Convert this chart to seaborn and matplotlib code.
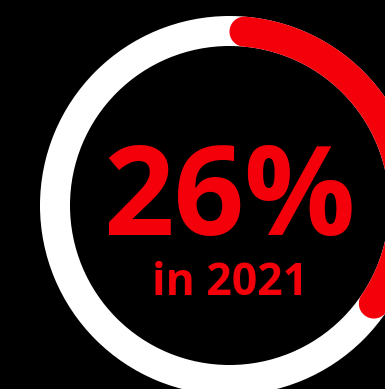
import numpy as np
import matplotlib
matplotlib.use("Agg")
import matplotlib.pyplot as plt
from matplotlib.patches import Wedge
import seaborn as sns

# Headline figure shown inside the ring
share_value = 26          # percent
ring_max = 72.5           # value that a full turn of the ring stands for
headline = f"{share_value}%"
subtitle = "in 2021"

RED = "#f4000b"
WHITE = "#ffffff"
BG = "#000000"

sns.set_theme(style="white")
plt.rcParams["font.family"] = ["Open Sans", "DejaVu Sans"]

W, H = 385, 389
fig = plt.figure(figsize=(W / 100, H / 100), dpi=100, facecolor=BG)
ax = fig.add_axes([0, 0, 1, 1])
ax.set_facecolor(BG)
ax.set_xlim(0, W)
ax.set_ylim(H, 0)
ax.set_aspect("equal")
ax.axis("off")

# ring geometry (pixel units, y grows downwards)
cx, cy = 229.5, 205.5
r_out, ring_w = 189.5, 30.0
r_in = r_out - ring_w
r_mid = r_out - ring_w / 2
half = ring_w / 2

# background track
ax.add_patch(Wedge((cx, cy), r_out, 0, 360, width=ring_w,
                   facecolor=WHITE, edgecolor="none"))


def pos(r, a):
    """Point at radius r, angle a measured clockwise from 12 o'clock."""
    return cx + r * np.sin(a), cy - r * np.cos(a)


# progress arc, clockwise from 12 o'clock, rounded ends kept inside the sweep
sweep = np.deg2rad(share_value / ring_max * 360.0)
cap = half / r_mid
a0, a1 = cap, sweep - cap
body = np.linspace(a0, a1, 240)
phi = np.linspace(0, np.pi, 60)

ox, oy = pos(r_out, body)
ix, iy = pos(r_in, body[::-1])
# end cap around the last centre point
p1x, p1y = pos(r_mid, a1)
e_x = p1x + half * (np.cos(phi) * np.sin(a1) + np.sin(phi) * np.cos(a1))
e_y = p1y + half * (-np.cos(phi) * np.cos(a1) + np.sin(phi) * np.sin(a1))
# start cap around the first centre point
p0x, p0y = pos(r_mid, a0)
s_x = p0x + half * (-np.cos(phi) * np.sin(a0) - np.sin(phi) * np.cos(a0))
s_y = p0y + half * (np.cos(phi) * np.cos(a0) - np.sin(phi) * np.sin(a0))

arc_x = np.concatenate([ox, e_x, ix, s_x])
arc_y = np.concatenate([oy, e_y, iy, s_y])
ax.fill(arc_x, arc_y, color=RED, linewidth=0, clip_on=False)

ax.text(cx, 235, headline, ha="center", va="baseline", color=RED,
        fontsize=89, fontweight="bold")
ax.text(cx + 1, 295, subtitle, ha="center", va="baseline", color=RED,
        fontsize=32, fontweight="bold")

fig.savefig("out.png", dpi=100, facecolor=BG)
